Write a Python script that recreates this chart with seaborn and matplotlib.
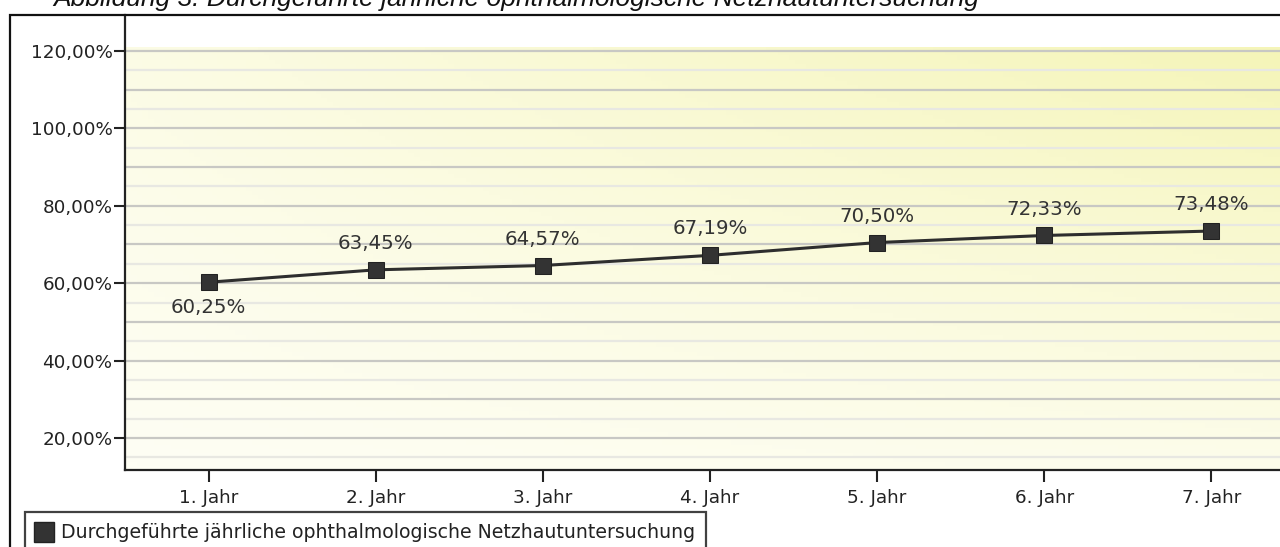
import numpy as np
import pandas as pd
import matplotlib
matplotlib.use("Agg")
import matplotlib.pyplot as plt
from matplotlib.lines import Line2D
from matplotlib.patches import Rectangle
from matplotlib.colors import LinearSegmentedColormap
import seaborn as sns

# data
years = ["1. Jahr", "2. Jahr", "3. Jahr", "4. Jahr", "5. Jahr", "6. Jahr", "7. Jahr"]
rates = [60.25, 63.45, 64.57, 67.19, 70.50, 72.33, 73.48]
label_texts = ["60,25%", "63,45%", "64,57%", "67,19%", "70,50%", "72,33%", "73,48%"]
ytick_values = [20, 40, 60, 80, 100, 120]
ytick_labels = ["20,00%", "40,00%", "60,00%", "80,00%", "100,00%", "120,00%"]
series_name = "Durchgeführte jährliche ophthalmologische Netzhautuntersuchung"
title = "Abbildung 3: Durchgeführte jährliche ophthalmologische Netzhautuntersuchung"

df = pd.DataFrame({"Jahr": years, "Rate": rates})

sns.set_style("white")
plt.rcParams["font.family"] = ["DejaVu Sans"]

W, H = 1280, 547
fig = plt.figure(figsize=(W / 100, H / 100), dpi=100)
fig.patch.set_facecolor("white")

# axes placed in pixel terms
left, right, bottom, top = 125, 1280, 470, 15
ax = fig.add_axes([left / W, (H - bottom) / H, (right - left) / W, (bottom - top) / H])
ax.set_facecolor("white")

xmin, xmax = -0.5, 6.41
ymin, ymax = 11.73, 129.3
yfill_top = 120.8

# pale yellow gradient background, strongest top right
cmap = LinearSegmentedColormap.from_list("bg", ["#fefef4", "#f5f5b8"])
gx, gy = np.meshgrid(np.linspace(0, 1, 200), np.linspace(0, 1, 100))
grad = 0.15 * gx + 0.25 * gy + 0.6 * gx * gy
ax.imshow(grad, extent=(xmin, xmax, ymin, yfill_top), origin="lower", cmap=cmap,
          aspect="auto", zorder=0, vmin=0, vmax=1)

# horizontal gridlines every 5 %, darker on 10 %
for v in np.arange(15, 121, 5):
    if v % 10 == 0:
        ax.axhline(v, color="#c8c8c4", lw=1.6, zorder=1)
    else:
        ax.axhline(v, color="#e8e8e2", lw=1.6, zorder=1)

sns.lineplot(data=df, x="Jahr", y="Rate", ax=ax, color="#2e2e2e", lw=2.2,
             marker="s", markersize=11.5, markeredgecolor="#222222",
             markerfacecolor="#333333", sort=False, zorder=3)

for i, (v, t) in enumerate(zip(rates, label_texts)):
    dy = -18 if i == 0 else 19
    ax.annotate(t, (i, v), xytext=(0, dy), textcoords="offset points",
                ha="center", va="center", fontsize=14.2, color="#333333", zorder=4)

ax.set_xlim(xmin, xmax)
ax.set_ylim(ymin, ymax)
ax.set_yticks(ytick_values)
ax.set_yticklabels(ytick_labels)
ax.set_xlabel("")
ax.set_ylabel("")
ax.tick_params(axis="y", length=8, width=1.5, color="#222222", pad=1,
               labelsize=13.2, labelcolor="#222222", left=True)
ax.tick_params(axis="x", length=8.5, width=1.5, color="#222222", pad=5,
               labelsize=13.2, labelcolor="#222222", bottom=True)

for s in ["top", "right"]:
    ax.spines[s].set_visible(False)
for s in ["left", "bottom"]:
    ax.spines[s].set_color("#222222")
    ax.spines[s].set_linewidth(1.6)

# outer frame around the chart
fig.patches.append(Rectangle((10 / W, -0.05), 1.1, 1 - 15 / H + 0.05,
                             transform=fig.transFigure, fill=False,
                             edgecolor="#111111", lw=1.6, zorder=5))

# title, cut off at the top like the reference
fig.text(53 / W, 1 - 6 / H, title, fontsize=19, style="italic",
         family=["Liberation Sans", "DejaVu Sans"], color="#111111", va="baseline")

handle = Line2D([], [], linestyle="none", marker="s", markersize=14.5,
                markerfacecolor="#333333", markeredgecolor="#222222")
leg = fig.legend([handle], [series_name], loc="upper left",
                 bbox_to_anchor=(25 / W, 1 - 512 / H), frameon=True, fancybox=False,
                 fontsize=13.6, borderpad=0.6, handlelength=0.8, handletextpad=0.5,
                 borderaxespad=0)
leg.get_frame().set_edgecolor("#111111")
leg.get_frame().set_linewidth(1.6)
for txt in leg.get_texts():
    txt.set_color("#222222")

fig.savefig("out.png", dpi=100)
